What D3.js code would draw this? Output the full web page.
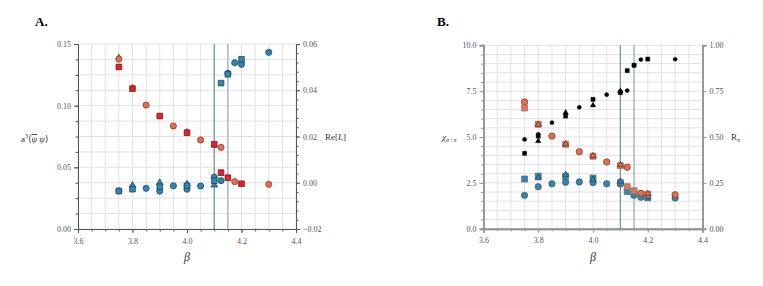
<!DOCTYPE html>
<html>
<head>
<meta charset="utf-8">
<script src="https://cdn.jsdelivr.net/npm/d3@7"></script>
<style>
  body { margin: 0; background: #fff; }
  svg { font-family: "Liberation Serif", "DejaVu Serif", serif; }
  .tick text { fill: #555; font-size: 8px; font-family: "Liberation Serif", "DejaVu Serif", serif; }
</style>
</head>
<body>
<div id="chart"></div>
<script>
// ---- Panel A data: condensate (left axis) ----
const aCondCircleBeta = [3.75, 3.85, 3.95, 4.05, 4.125, 4.175, 4.3];
const aCondCircle = [0.1378, 0.1005, 0.0835, 0.0722, 0.0662, 0.0384, 0.0362];
const aCondSquareBeta = [3.75, 3.8, 3.9, 4.0, 4.1, 4.125, 4.15, 4.2];
const aCondSquare = [0.1314, 0.1138, 0.0916, 0.0781, 0.0687, 0.0457, 0.0416, 0.0367];
const aCondTriBeta = [3.75, 3.8, 4.0, 4.1];
const aCondTri = [0.1395, 0.1150, 0.0790, 0.0675];

// ---- Panel A data: Re[L] (right axis) ----
const aPolyCircleBeta = [3.75, 3.85, 3.9, 3.95, 4.0, 4.05, 4.1, 4.125, 4.15, 4.175, 4.2, 4.3];
const aPolyCircle = [-0.0035, -0.0024, -0.0036, -0.0013, -0.0028, -0.0014, 0.0024, 0.0009, 0.0473, 0.0519, 0.0512, 0.0564];
const aPolySquareBeta = [3.75, 3.8, 3.9, 4.0, 4.1, 4.125, 4.15, 4.2];
const aPolySquare = [-0.0036, -0.0028, -0.0017, -0.0013, 0.0009, 0.0431, 0.0469, 0.0534];
const aPolyTriBeta = [3.8, 3.9, 4.0, 4.1];
const aPolyTri = [-0.0012, 0.0000, -0.0006, -0.0010];

// ---- Panel B data: chi sigma/pi (left axis) ----
const bOrangeCircleBeta = [3.75, 3.85, 3.95, 4.05, 4.125, 4.175, 4.3];
const bOrangeCircle = [6.91, 5.05, 4.20, 3.64, 3.35, 1.93, 1.85];
const bOrangeSquareBeta = [3.75, 3.8, 3.9, 4.0, 4.1, 4.125, 4.15, 4.2];
const bOrangeSquare = [6.58, 5.69, 4.60, 3.95, 3.44, 2.29, 2.07, 1.88];
const bOrangeTriBeta = [3.8, 3.9, 4.0, 4.1, 4.2];
const bOrangeTri = [5.69, 4.62, 3.97, 3.47, 1.90];
const bBlueCircleBeta = [3.75, 3.8, 3.85, 3.9, 3.95, 4.0, 4.05, 4.1, 4.15, 4.175, 4.3];
const bBlueCircle = [1.82, 2.29, 2.45, 2.53, 2.55, 2.51, 2.45, 2.44, 1.82, 1.71, 1.67];
const bBlueSquareBeta = [3.75, 3.8, 3.9, 4.0, 4.1, 4.125, 4.15, 4.2];
const bBlueSquare = [2.71, 2.87, 2.85, 2.76, 2.51, 2.02, 1.89, 1.68];
const bBlueTriBeta = [3.8, 3.9, 4.0, 4.1, 4.2];
const bBlueTri = [2.76, 2.95, 2.68, 2.58, 1.72];

// ---- Panel B data: R_pi (right axis) ----
const bBlackCircleBeta = [3.75, 3.8, 3.85, 3.95, 4.05, 4.1, 4.125, 4.15, 4.175, 4.3];
const bBlackCircle = [0.487, 0.515, 0.578, 0.662, 0.731, 0.747, 0.753, 0.891, 0.922, 0.924];
const bBlackSquareBeta = [3.75, 3.8, 3.9, 4.0, 4.1, 4.125, 4.15, 4.2];
const bBlackSquare = [0.411, 0.505, 0.614, 0.705, 0.742, 0.862, 0.891, 0.925];
const bBlackTriBeta = [3.8, 3.9, 4.0, 4.1];
const bBlackTri = [0.478, 0.633, 0.673, 0.750];

const criticalBeta = [4.1, 4.15];

const svg = d3.select('#chart').append('svg')
  .attr('width', 763).attr('height', 286);

function zip(xs, ys) {
  return xs.map((x, i) => ({ x: x, y: ys[i] }));
}

function drawPanel(cfg) {
  const x = d3.scaleLinear().domain([3.6, 4.4]).range([cfg.left, cfg.right]);
  const yL = d3.scaleLinear().domain(cfg.yLDomain).range([cfg.bottom, cfg.top]);
  const yR = d3.scaleLinear().domain(cfg.yRDomain).range([cfg.bottom, cfg.top]);
  const g = svg.append('g');

  // grid
  const xGrid = d3.range(3.6, 4.4001, 0.05);
  g.append('g').selectAll('line').data(xGrid).enter().append('line')
    .attr('x1', d => x(d)).attr('x2', d => x(d))
    .attr('y1', cfg.top).attr('y2', cfg.bottom)
    .attr('stroke', '#e2e2e2').attr('stroke-width', 1);
  const yGrid = d3.range(cfg.yLDomain[0], cfg.yLDomain[1] + 1e-9, cfg.gridStep);
  g.append('g').selectAll('line').data(yGrid).enter().append('line')
    .attr('x1', cfg.left).attr('x2', cfg.right)
    .attr('y1', d => yL(d)).attr('y2', d => yL(d))
    .attr('stroke', '#e2e2e2').attr('stroke-width', 1);

  // critical lines
  g.append('g').selectAll('line').data(criticalBeta).enter().append('line')
    .attr('x1', d => x(d)).attr('x2', d => x(d))
    .attr('y1', cfg.top).attr('y2', cfg.bottom)
    .attr('stroke', (d, i) => i === 0 ? '#6f9aa3' : '#98b8bd')
    .attr('stroke-width', 1.3);

  // axes
  const axisColor = cfg.axisColor;
  function styleAxis(sel, w) {
    sel.select('.domain').attr('stroke', axisColor).attr('stroke-width', w);
    sel.selectAll('.tick line').attr('stroke', axisColor);
  }
  const xMinor = g.append('g').attr('transform', `translate(0,${cfg.bottom})`)
    .call(d3.axisBottom(x).tickValues(xGrid).tickSize(2.5).tickFormat(''));
  styleAxis(xMinor, cfg.axisWidth);
  const xMajor = g.append('g').attr('transform', `translate(0,${cfg.bottom})`)
    .call(d3.axisBottom(x).tickValues([3.6, 3.8, 4.0, 4.2, 4.4]).tickSize(4).tickPadding(5).tickFormat(d3.format('.1f')));
  styleAxis(xMajor, cfg.axisWidth);

  const lMinor = g.append('g').attr('transform', `translate(${cfg.left},0)`)
    .call(d3.axisLeft(yL).tickValues(d3.range(cfg.yLDomain[0], cfg.yLDomain[1] + 1e-9, cfg.yLMinor)).tickSize(2.5).tickFormat(''));
  styleAxis(lMinor, cfg.axisWidth);
  const lMajor = g.append('g').attr('transform', `translate(${cfg.left},0)`)
    .call(d3.axisLeft(yL).tickValues(d3.range(cfg.yLDomain[0], cfg.yLDomain[1] + 1e-9, cfg.yLMajor)).tickSize(4).tickPadding(3).tickFormat(d3.format(cfg.yLFormat)));
  styleAxis(lMajor, cfg.axisWidth);

  if (cfg.yRMinor) {
    const rMinor = g.append('g').attr('transform', `translate(${cfg.right},0)`)
      .call(d3.axisRight(yR).tickValues(d3.range(cfg.yRDomain[0], cfg.yRDomain[1] + 1e-9, cfg.yRMinor)).tickSize(2.5).tickFormat(''));
    styleAxis(rMinor, cfg.axisWidth);
  }
  const rMajor = g.append('g').attr('transform', `translate(${cfg.right},0)`)
    .call(d3.axisRight(yR).tickValues(d3.range(cfg.yRDomain[0], cfg.yRDomain[1] + 1e-9, cfg.yRMajor)).tickSize(4).tickPadding(3).tickFormat(d3.format(cfg.yRFormat)));
  styleAxis(rMajor, cfg.axisWidth);

  // markers
  cfg.series.forEach((s) => {
    const ys = s.axis === 'L' ? yL : yR;
    const sym = s.shape === 'circle' ? d3.symbolCircle : s.shape === 'square' ? d3.symbolSquare : d3.symbolTriangle;
    g.append('g').selectAll('path').data(zip(s.beta, s.values)).enter().append('path')
      .attr('transform', d => `translate(${x(d.x)},${ys(d.y)})`)
      .attr('d', d3.symbol().type(sym).size(s.size))
      .attr('fill', s.fill)
      .attr('stroke', s.stroke)
      .attr('stroke-width', s.strokeWidth || 0.7);
  });

  // title and labels
  svg.append('text').attr('x', cfg.titleX).attr('y', 26)
    .attr('font-size', 13).attr('font-weight', 'bold').text(cfg.title);
  svg.append('text').attr('x', (cfg.left + cfg.right) / 2).attr('y', 261)
    .attr('text-anchor', 'middle').attr('font-size', 12).attr('font-style', 'italic')
    .attr('fill', '#333').text('β');
  return { x: x, yL: yL, yR: yR };
}

const orangeFill = '#ec6a48';
const redFill = '#e3222a';
const blueFill = '#2f86b4';

drawPanel({
  title: 'A.', titleX: 35,
  left: 78, right: 296, top: 44, bottom: 229,
  yLDomain: [0, 0.15], yLMajor: 0.05, yLMinor: 0.0125, yLFormat: '.2f', gridStep: 0.0125,
  yRDomain: [-0.02, 0.06], yRMajor: 0.02, yRMinor: 0.004, yRFormat: '.2f',
  axisColor: '#555', axisWidth: 1,
  series: [
    { beta: aCondTriBeta, values: aCondTri, axis: 'L', shape: 'tri', size: 12, fill: '#5a6a5a', stroke: '#3a3a3a', strokeWidth: 0.5 },
    { beta: aCondCircleBeta, values: aCondCircle, axis: 'L', shape: 'circle', size: 30, fill: orangeFill, stroke: '#6b3a2a' },
    { beta: aCondSquareBeta, values: aCondSquare, axis: 'L', shape: 'square', size: 32, fill: redFill, stroke: '#5a1010' },
    { beta: aPolyTriBeta, values: aPolyTri, axis: 'R', shape: 'tri', size: 20, fill: blueFill, stroke: '#1d3c50' },
    { beta: aPolyCircleBeta, values: aPolyCircle, axis: 'R', shape: 'circle', size: 30, fill: blueFill, stroke: '#1d3c50' },
    { beta: aPolySquareBeta, values: aPolySquare, axis: 'R', shape: 'square', size: 32, fill: blueFill, stroke: '#1d3c50' },
  ],
});

drawPanel({
  title: 'B.', titleX: 437,
  left: 483.5, right: 702.5, top: 45.3, bottom: 228.7,
  yLDomain: [0, 10], yLMajor: 2.5, yLMinor: 0.5, yLFormat: '.1f', gridStep: 0.5,
  yRDomain: [0, 1], yRMajor: 0.25, yRMinor: null, yRFormat: '.2f',
  axisColor: '#999', axisWidth: 2,
  series: [
    { beta: bBlackCircleBeta, values: bBlackCircle, axis: 'R', shape: 'circle', size: 14, fill: '#000', stroke: '#000', strokeWidth: 0.3 },
    { beta: bBlackSquareBeta, values: bBlackSquare, axis: 'R', shape: 'square', size: 18, fill: '#000', stroke: '#000', strokeWidth: 0.3 },
    { beta: bBlackTriBeta, values: bBlackTri, axis: 'R', shape: 'tri', size: 14, fill: '#000', stroke: '#000', strokeWidth: 0.3 },
    { beta: bBlueCircleBeta, values: bBlueCircle, axis: 'L', shape: 'circle', size: 32, fill: blueFill, stroke: '#555' },
    { beta: bBlueSquareBeta, values: bBlueSquare, axis: 'L', shape: 'square', size: 36, fill: blueFill, stroke: '#666' },
    { beta: bBlueTriBeta, values: bBlueTri, axis: 'L', shape: 'tri', size: 16, fill: blueFill, stroke: '#1d3c50' },
    { beta: bOrangeCircleBeta, values: bOrangeCircle, axis: 'L', shape: 'circle', size: 32, fill: orangeFill, stroke: '#6b3a2a' },
    { beta: bOrangeSquareBeta, values: bOrangeSquare, axis: 'L', shape: 'square', size: 36, fill: '#e8704e', stroke: '#777' },
    { beta: bOrangeTriBeta, values: bOrangeTri, axis: 'L', shape: 'tri', size: 16, fill: '#e8704e', stroke: '#5a1a10' },
  ],
});

// axis titles
const lblA = svg.append('text').attr('x', 21).attr('y', 142).attr('font-size', 9).attr('fill', '#333');
lblA.append('tspan').text('a');
lblA.append('tspan').attr('dy', -4).attr('font-size', 6).text('3');
lblA.append('tspan').attr('dy', 4).text('⟨');
lblA.append('tspan').attr('font-style', 'italic').attr('text-decoration', 'overline').text('ψ');
lblA.append('tspan').attr('font-style', 'italic').text(' ψ');
lblA.append('tspan').text('⟩');

const lblAR = svg.append('text').attr('x', 325).attr('y', 140).attr('font-size', 9).attr('fill', '#333');
lblAR.append('tspan').text('Re[');
lblAR.append('tspan').attr('font-style', 'italic').text('L');
lblAR.append('tspan').text(']');

const lblB = svg.append('text').attr('x', 442).attr('y', 140).attr('font-size', 9).attr('fill', '#333');
lblB.append('tspan').attr('font-style', 'italic').text('χ');
lblB.append('tspan').attr('dy', 2).attr('font-size', 6).attr('font-style', 'italic').text('σ / π');

const lblBR = svg.append('text').attr('x', 731).attr('y', 140).attr('font-size', 9).attr('fill', '#333');
lblBR.append('tspan').text('R');
lblBR.append('tspan').attr('dy', 2).attr('font-size', 6).attr('font-style', 'italic').text('π');
</script>
</body>
</html>
